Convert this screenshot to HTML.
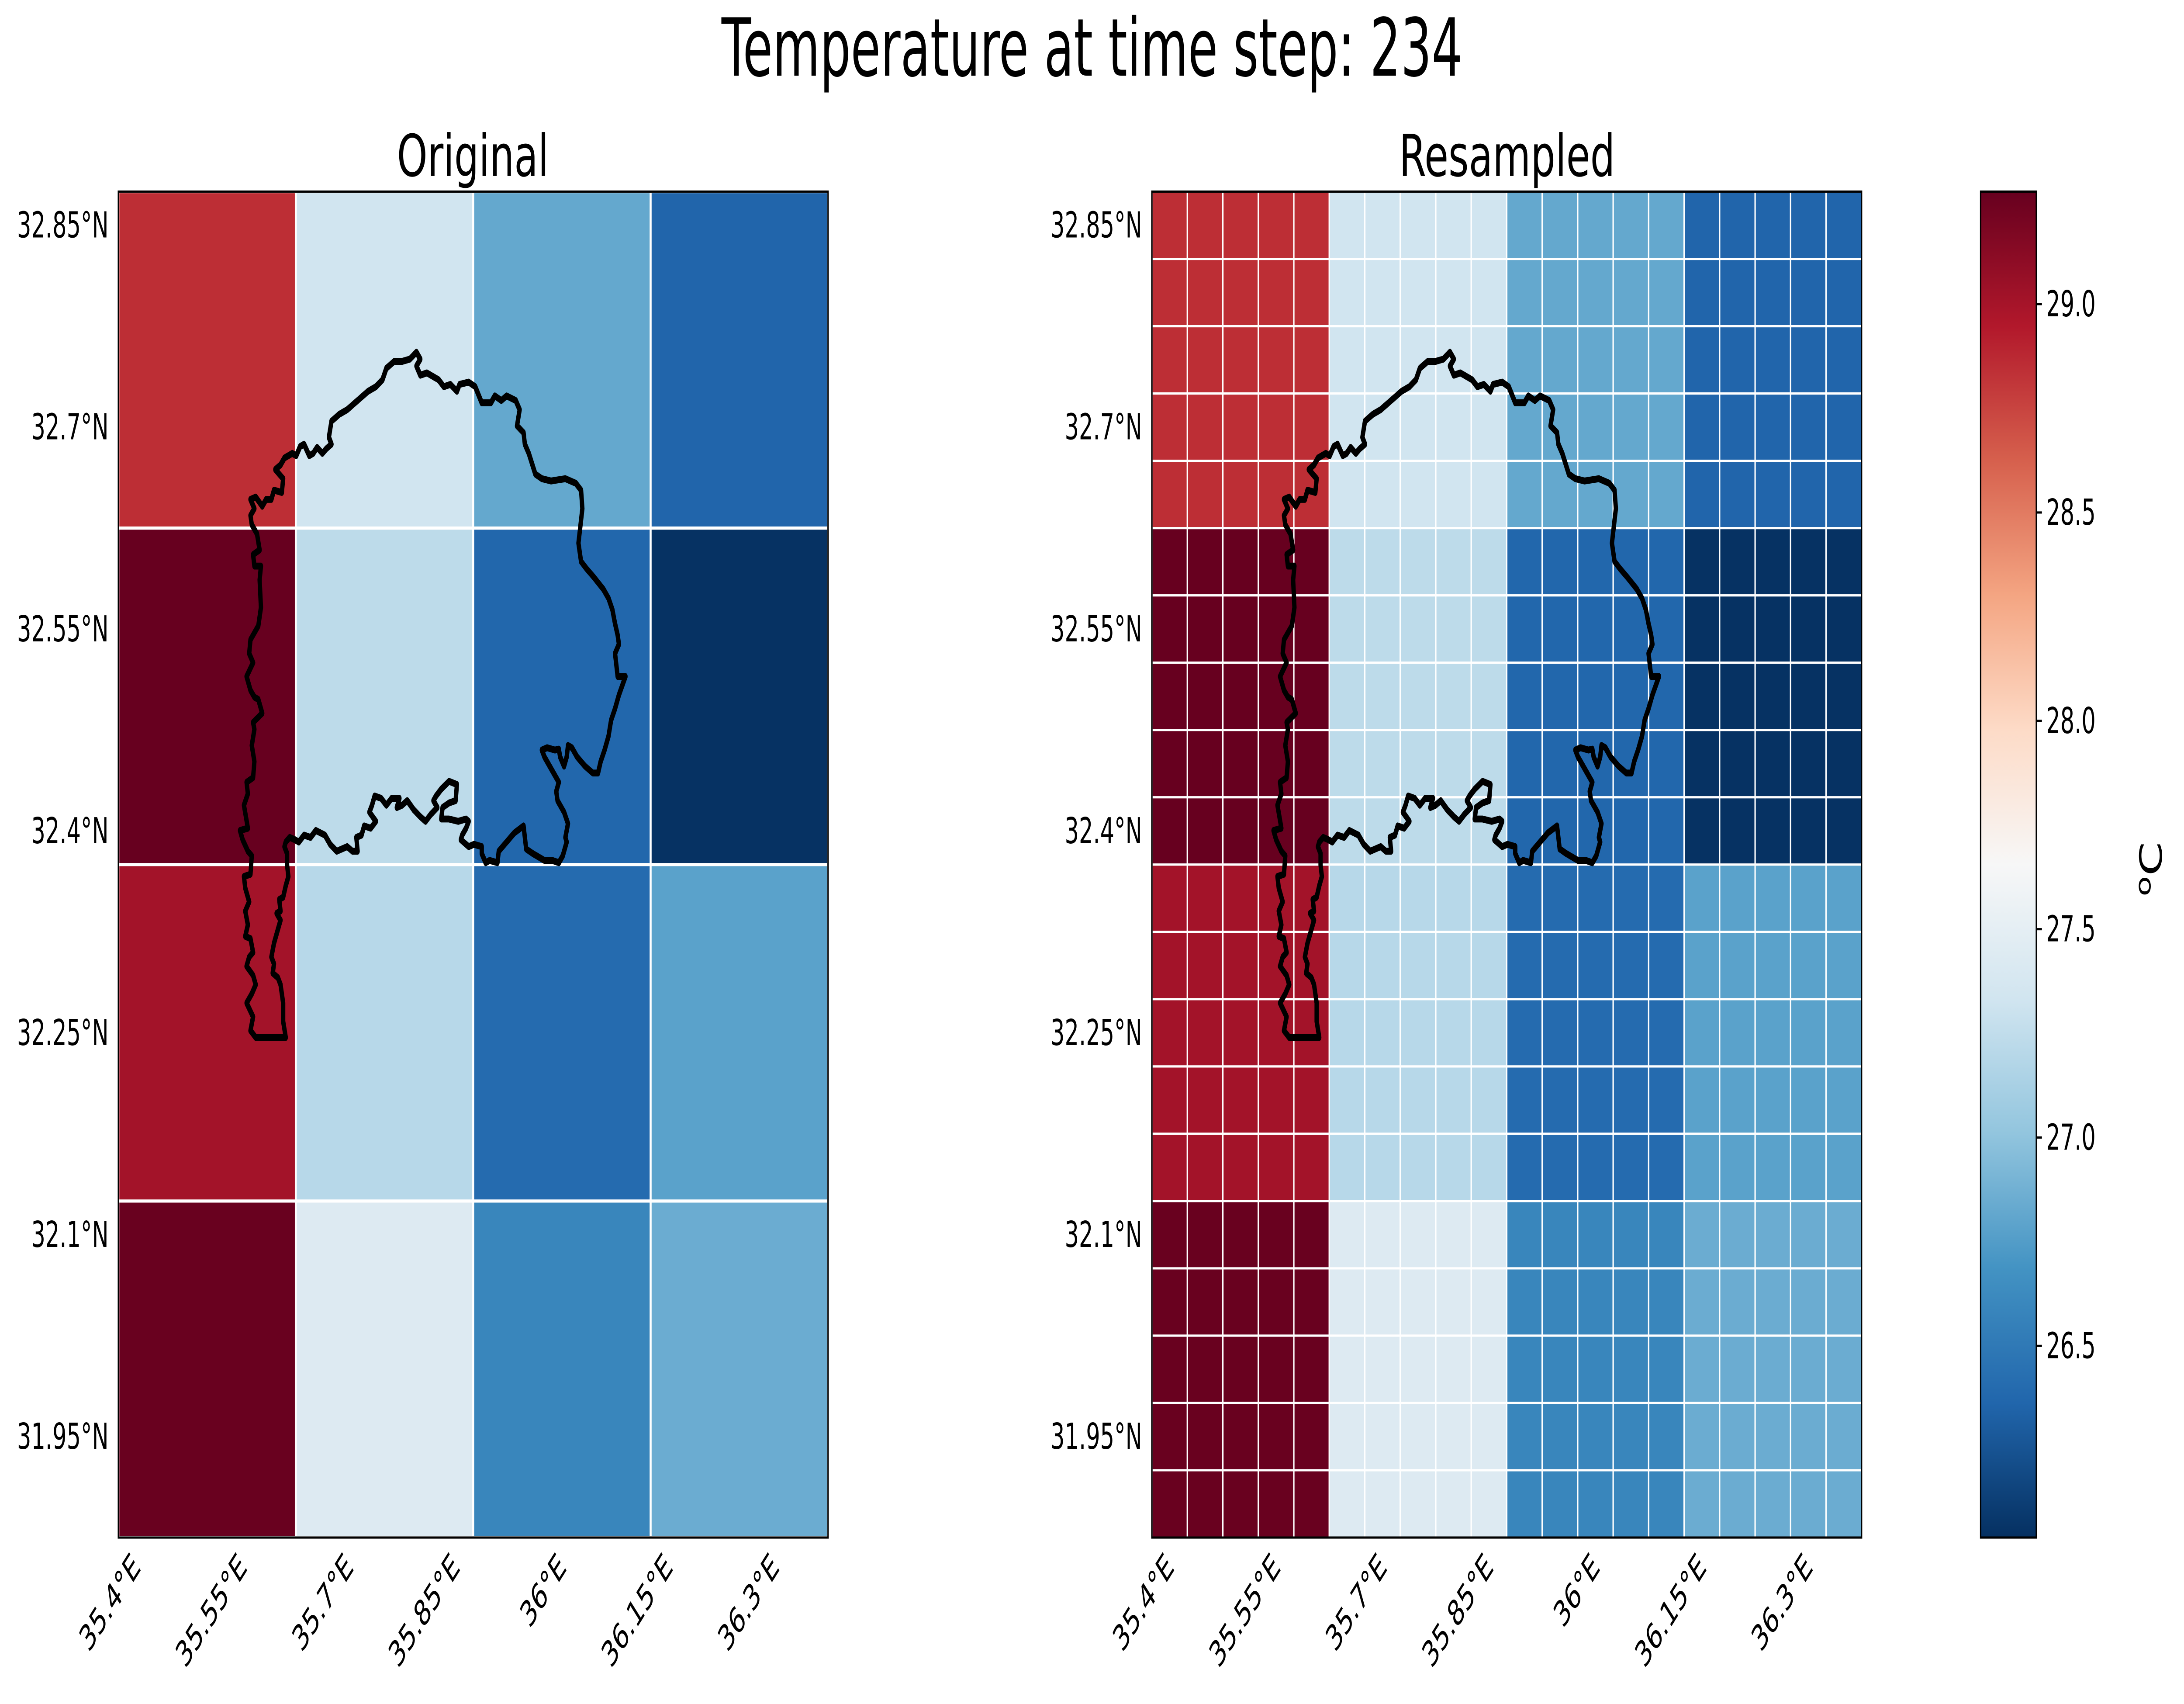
<!DOCTYPE html>
<html><head><meta charset="utf-8"><style>
html,body{margin:0;padding:0;background:#fff;overflow:hidden;width:100vw;height:100vh;}
svg{display:block;width:100vw;height:100vh;}
text{font-family:"DejaVu Sans","Liberation Sans",sans-serif;fill:#000;}
</style></head>
<body>
<svg id="fig" xmlns="http://www.w3.org/2000/svg" viewBox="0 0 1568 764.7" preserveAspectRatio="none">
<defs>
<linearGradient id="cbgrad" x1="0" y1="1" x2="0" y2="0">
<stop offset="0" stop-color="#053061"/><stop offset="0.1" stop-color="#2166ac"/><stop offset="0.2" stop-color="#4393c3"/><stop offset="0.3" stop-color="#92c5de"/><stop offset="0.4" stop-color="#d1e5f0"/><stop offset="0.5" stop-color="#f7f7f7"/><stop offset="0.6" stop-color="#fddbc7"/><stop offset="0.7" stop-color="#f4a582"/><stop offset="0.8" stop-color="#d6604d"/><stop offset="0.9" stop-color="#b2182b"/><stop offset="1" stop-color="#67001f"/>
</linearGradient>
<path id="outline" d=""/>
</defs>
<text x="784" y="34" font-size="36" text-anchor="middle" textLength="532" lengthAdjust="spacingAndGlyphs">Temperature at time step: 234</text>
<text x="339.5" y="79" font-size="26" text-anchor="middle" textLength="109" lengthAdjust="spacingAndGlyphs">Original</text>
<text x="1082" y="79" font-size="26" text-anchor="middle" textLength="155" lengthAdjust="spacingAndGlyphs">Resampled</text>
<g id="axL"></g>
<g id="axR"></g>
<g id="cbar"></g>
</svg>
<script>
const lonTicks = [35.4, 35.55, 35.7, 35.85, 36.0, 36.15, 36.3];
const lonTickLabels = ["35.4°E","35.55°E","35.7°E","35.85°E","36°E","36.15°E","36.3°E"];
const latTicks = [32.85, 32.7, 32.55, 32.4, 32.25, 32.1, 31.95];
const latTickLabels = ["32.85°N","32.7°N","32.55°N","32.4°N","32.25°N","32.1°N","31.95°N"];
const lonRange = [35.375, 36.375];
const latRange = [31.875, 32.875];
const vRange = [26.04, 29.27];
const cbTicks = [26.5, 27.0, 27.5, 28.0, 28.5, 29.0];
const cbTickLabels = ["26.5","27.0","27.5","28.0","28.5","29.0"];
// original grid rows, north to south
const origRow0 = [28.85, 27.33, 26.82, 26.36];
const origRow1 = [29.27, 27.23, 26.37, 26.05];
const origRow2 = [29.01, 27.20, 26.40, 26.78];
const origRow3 = [29.26, 27.43, 26.59, 26.85];
const original = [origRow0, origRow1, origRow2, origRow3];
// resampled 20x20 grid rows, north to south
const rA = [28.85,28.85,28.85,28.85,28.85,27.33,27.33,27.33,27.33,27.33,26.82,26.82,26.82,26.82,26.82,26.36,26.36,26.36,26.36,26.36];
const rB = [29.27,29.27,29.27,29.27,29.27,27.23,27.23,27.23,27.23,27.23,26.37,26.37,26.37,26.37,26.37,26.05,26.05,26.05,26.05,26.05];
const rC = [29.01,29.01,29.01,29.01,29.01,27.20,27.20,27.20,27.20,27.20,26.40,26.40,26.40,26.40,26.40,26.78,26.78,26.78,26.78,26.78];
const rD = [29.26,29.26,29.26,29.26,29.26,27.43,27.43,27.43,27.43,27.43,26.59,26.59,26.59,26.59,26.59,26.85,26.85,26.85,26.85,26.85];
const resampled = [rA,rA,rA,rA,rA, rB,rB,rB,rB,rB, rC,rC,rC,rC,rC, rD,rD,rD,rD,rD];

const NS = "http://www.w3.org/2000/svg";
const stops = ["#053061","#2166ac","#4393c3","#92c5de","#d1e5f0","#f7f7f7","#fddbc7","#f4a582","#d6604d","#b2182b","#67001f"];
function hex(h){return [parseInt(h.substr(1,2),16),parseInt(h.substr(3,2),16),parseInt(h.substr(5,2),16)];}
function cmap(v){
  let t=(v-vRange[0])/(vRange[1]-vRange[0]); t=Math.max(0,Math.min(1,t));
  const p=t*10, i=Math.min(9,Math.floor(p)), f=p-i;
  const a=hex(stops[i]), b=hex(stops[i+1]);
  return "rgb("+a.map((c,k)=>Math.round(c+(b[k]-c)*f)).join(",")+")";
}
function el(tag, attrs, parent){const e=document.createElementNS(NS,tag);for(const k in attrs)e.setAttribute(k,attrs[k]);parent.appendChild(e);return e;}

const op = [[90,1515],[70,1500],[80,1470],[55,1440],[75,1420],[90,1400],[80,1380],[55,1360],[65,1340],[80,1330],[70,1300],[50,1295],[60,1270],[50,1240],[65,1220],[50,1190],[45,1165],[70,1160],[75,1120],[60,1110],[40,1085],[30,1065],[60,1060],[45,1010],[60,985],[55,960],[80,950],[85,915],[75,880],[85,845],[80,830],[115,810],[100,780],[85,775],[70,760],[55,730],[80,700],[65,680],[70,650],[100,620],[110,580],[105,520],[110,490],[85,490],[80,465],[105,455],[95,420],[75,400],[70,380],[85,365],[70,345],[90,340],[115,360],[130,345],[150,345],[160,325],[190,330],[195,300],[180,290],[165,280],[185,270],[200,255],[230,245],[245,250],[260,230],[275,225],[295,250],[310,245],[325,232],[345,245],[360,235],[380,225],[370,210],[380,175],[410,160],[440,150],[470,135],[490,125],[520,110],[550,100],[575,85],[590,60],[620,45],[650,45],[680,40],[705,25],[720,40],[705,55],[720,75],[745,70],[790,85],[810,100],[835,95],[860,110],[870,95],[905,90],[930,100],[955,135],[990,135],[1005,120],[1030,130],[1050,120],[1085,130],[1100,150],[1090,185],[1115,200],[1120,225],[1135,245],[1160,290],[1185,300],[1220,305],[1275,300],[1315,310],[1335,325],[1340,365],[1325,440],[1335,480],[1355,495],[1385,515],[1420,540],[1440,560],[1455,585],[1465,615],[1475,640],[1480,660],[1465,680],[1475,730],[1505,730],[1480,770],[1465,800],[1450,825],[1440,860],[1425,890],[1410,915],[1400,940],[1380,940],[1350,925],[1320,905],[1300,885],[1285,880],[1280,905],[1270,925],[1255,905],[1250,888],[1235,890],[1205,885],[1185,890],[1195,905],[1225,935],[1250,960],[1240,980],[1245,1000],[1270,1025],[1285,1050],[1275,1080],[1280,1090],[1265,1120],[1250,1135],[1225,1130],[1195,1130],[1150,1115],[1125,1105],[1115,1055],[1080,1070],[1050,1090],[1020,1110],[1015,1135],[985,1130],[970,1135],[955,1115],[955,1100],[925,1095],[905,1100],[875,1085],[880,1075],[895,1060],[905,1045],[895,1040],[865,1045],[830,1040],[800,1040],[805,1015],[830,1005],[855,1000],[860,965],[830,958],[800,975],[780,990],[770,1000],[785,1015],[760,1030],[740,1045],[720,1035],[695,1020],[670,1000],[650,1010],[630,1015],[640,995],[610,995],[590,1010],[570,995],[545,990],[535,1010],[525,1025],[550,1045],[530,1060],[505,1055],[495,1075],[475,1080],[480,1110],[460,1110],[440,1100],[400,1110],[375,1095],[355,1075],[320,1065],[300,1080],[275,1075],[255,1090],[240,1085],[220,1080],[205,1090],[200,1100],[210,1115],[210,1140],[215,1165],[205,1185],[195,1210],[180,1215],[185,1240],[170,1245],[185,1260],[170,1290],[160,1310],[150,1340],[160,1355],[155,1375],[175,1385],[185,1400],[195,1440],[195,1480],[205,1515]];
const dOut = "M"+op.map(p=>((166.7+p[0]/5.33)-85).toFixed(2)+","+(152.9+p[1]/4.845).toFixed(2)).join("L")+"Z";
document.getElementById("outline").setAttribute("d", dOut);

const AX_T=86, AX_B=690, AX_W=509.5;
function drawAxes(g, x0, grid, nm, lw){
  const xs=v=>x0+(v-lonRange[0])/(lonRange[1]-lonRange[0])*AX_W;
  const ys=v=>AX_T+(latRange[1]-v)/(latRange[1]-latRange[0])*(AX_B-AX_T);
  const n=grid.length, m=grid[0].length;
  const dLon=(lonRange[1]-lonRange[0])/m, dLat=(latRange[1]-latRange[0])/n;
  for(let i=0;i<n;i++)for(let j=0;j<m;j++){
    const x1=xs(lonRange[0]+j*dLon), x2=xs(lonRange[0]+(j+1)*dLon);
    const y1=ys(latRange[1]-i*dLat), y2=ys(latRange[1]-(i+1)*dLat);
    const r=el("rect",{x:x1,y:y1,width:x2-x1,height:y2-y1,fill:cmap(grid[i][j]),stroke:"#fff","stroke-width":lw},g);
    
    
  }
  const o=el("use",{href:"#outline",transform:"translate("+(x0)+",0)",fill:"none",stroke:"#000","stroke-width":3.1,"stroke-linejoin":"round"},g);
  
  
  const f=el("rect",{x:x0,y:AX_T,width:AX_W,height:AX_B-AX_T,fill:"none",stroke:"#000","stroke-width":1},g);
  
  
  latTicks.forEach((v,k)=>{
    const t=el("text",{x:x0-7,y:ys(v)+5.5,"font-size":16,"text-anchor":"end"},g);
    t.textContent=latTickLabels[k];
    
    
  });
  lonTicks.forEach((v,k)=>{
    const ax=xs(v)+4, ay=AX_B+14;
    const t=el("text",{x:ax,y:ay,"font-size":16,"text-anchor":"end",transform:"rotate(-45 "+ax+" "+ay+")"},g);
    t.textContent=lonTickLabels[k];
    
    
  });
}
drawAxes(document.getElementById("axL"), 85, original, "original", 1.4);
drawAxes(document.getElementById("axR"), 827, resampled, "resampled", 1.0);

const cb=document.getElementById("cbar");
const CBX=1422, CBW=40;
const cr=el("rect",{x:CBX,y:AX_T,width:CBW,height:AX_B-AX_T,fill:"url(#cbgrad)",stroke:"#000","stroke-width":1},cb);


const cys=v=>AX_B-(v-vRange[0])/(vRange[1]-vRange[0])*(AX_B-AX_T);
cbTicks.forEach((v,k)=>{
  const y=cys(v);
  const l=el("line",{x1:CBX+CBW,x2:CBX+CBW+4,y1:y,y2:y,stroke:"#000","stroke-width":1},cb);
  
  
  const t=el("text",{x:CBX+CBW+7,y:y+5.5,"font-size":16},cb);
  t.textContent=cbTickLabels[k];
  
  
});
const lab=el("text",{x:1552,y:390,"font-size":22,"text-anchor":"middle",transform:"rotate(-90 1552 390)"},cb);
lab.innerHTML='<tspan font-size="15" dy="-8">o</tspan><tspan dy="8">C</tspan>';


</script>
</body></html>
